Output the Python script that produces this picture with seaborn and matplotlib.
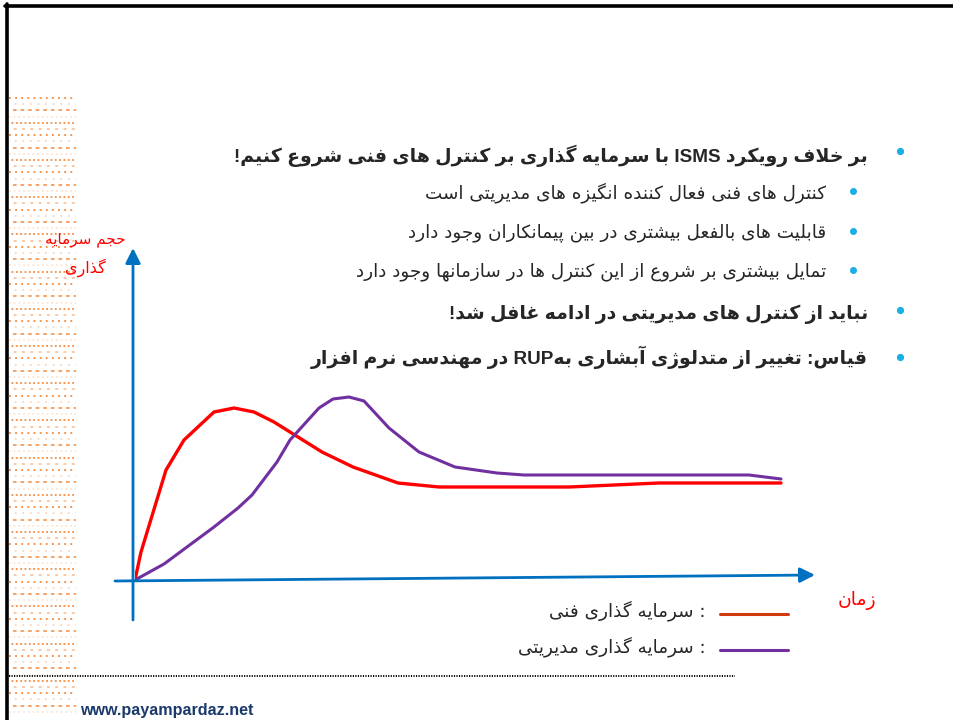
import re
import matplotlib
matplotlib.use("Agg")
import matplotlib.pyplot as plt
import seaborn as sns
from matplotlib.lines import Line2D

W, H = 954, 720

# --- data (time vs investment volume, arbitrary units) ---
tech_time = [0, 6, 31, 49, 79, 99, 119, 139, 187, 218, 263, 304, 434, 524, 646]
tech_value = [0, 28, 110, 140, 168, 172, 168, 158, 128, 113, 97, 93, 93, 97, 97]
mgmt_time = [0, 29, 79, 103, 117, 142, 155, 184, 198, 214, 229, 254, 284, 320, 362, 389, 614, 646]
mgmt_value = [0, 16, 53, 72, 85, 118, 140, 172, 181, 183, 179, 152, 128, 113, 107, 105, 105, 101]

series_labels = [": سرمایه گذاری فنی", ": سرمایه گذاری مدیریتی"]
y_label_lines = ["حجم سرمایه", "گذاری"]
x_label = "زمان"
bullets_main = [
    "بر خلاف رویکرد ISMS با سرمایه گذاری بر کنترل های فنی شروع کنیم!",
    "نباید از کنترل های مدیریتی در ادامه غافل شد!",
    "قیاس: تغییر از متدلوژی آبشاری بهRUP در مهندسی نرم افزار",
]
bullets_sub = [
    "کنترل های فنی فعال کننده انگیزه های مدیریتی است",
    "قابلیت های بالفعل بیشتری در بین پیمانکاران وجود دارد",
    "تمایل بیشتری بر شروع از این کنترل ها در سازمانها وجود دارد",
]
footer = "www.payampardaz.net"

# --- minimal arabic/persian shaping + rtl ordering (matplotlib has no CTL) ---
FORMS = {
    "ا": (0xFE8D, 0xFE8E), "آ": (0xFE81, 0xFE82), "د": (0xFEA9, 0xFEAA),
    "ذ": (0xFEAB, 0xFEAC), "ر": (0xFEAD, 0xFEAE), "ز": (0xFEAF, 0xFEB0),
    "ژ": (0xFB8A, 0xFB8B), "و": (0xFEED, 0xFEEE), "ة": (0xFE93, 0xFE94),
    "ب": (0xFE8F, 0xFE90, 0xFE91, 0xFE92), "پ": (0xFB56, 0xFB57, 0xFB58, 0xFB59),
    "ت": (0xFE95, 0xFE96, 0xFE97, 0xFE98), "ث": (0xFE99, 0xFE9A, 0xFE9B, 0xFE9C),
    "ج": (0xFE9D, 0xFE9E, 0xFE9F, 0xFEA0), "چ": (0xFB7A, 0xFB7B, 0xFB7C, 0xFB7D),
    "ح": (0xFEA1, 0xFEA2, 0xFEA3, 0xFEA4), "خ": (0xFEA5, 0xFEA6, 0xFEA7, 0xFEA8),
    "س": (0xFEB1, 0xFEB2, 0xFEB3, 0xFEB4), "ش": (0xFEB5, 0xFEB6, 0xFEB7, 0xFEB8),
    "ص": (0xFEB9, 0xFEBA, 0xFEBB, 0xFEBC), "ض": (0xFEBD, 0xFEBE, 0xFEBF, 0xFEC0),
    "ط": (0xFEC1, 0xFEC2, 0xFEC3, 0xFEC4), "ظ": (0xFEC5, 0xFEC6, 0xFEC7, 0xFEC8),
    "ع": (0xFEC9, 0xFECA, 0xFECB, 0xFECC), "غ": (0xFECD, 0xFECE, 0xFECF, 0xFED0),
    "ف": (0xFED1, 0xFED2, 0xFED3, 0xFED4), "ق": (0xFED5, 0xFED6, 0xFED7, 0xFED8),
    "ک": (0xFB8E, 0xFB8F, 0xFB90, 0xFB91), "گ": (0xFB92, 0xFB93, 0xFB94, 0xFB95),
    "ل": (0xFEDD, 0xFEDE, 0xFEDF, 0xFEE0), "م": (0xFEE1, 0xFEE2, 0xFEE3, 0xFEE4),
    "ن": (0xFEE5, 0xFEE6, 0xFEE7, 0xFEE8), "ه": (0xFEE9, 0xFEEA, 0xFEEB, 0xFEEC),
    "ی": (0xFBFC, 0xFBFD, 0xFBFE, 0xFBFF), "ي": (0xFEF1, 0xFEF2, 0xFEF3, 0xFEF4),
    "ئ": (0xFE89, 0xFE8A, 0xFE8B, 0xFE8C),
}
LAM_ALEF = {"ا": (0xFEFB, 0xFEFC), "آ": (0xFEF5, 0xFEF6)}


def shape(s):
    out = []
    i = 0
    while i < len(s):
        c = s[i]
        prev = s[i - 1] if i > 0 else ""
        prev_joins = prev in FORMS and len(FORMS[prev]) == 4
        if c == "ل" and i + 1 < len(s) and s[i + 1] in LAM_ALEF:
            iso, fin = LAM_ALEF[s[i + 1]]
            out.append(chr(fin if prev_joins else iso))
            i += 2
            continue
        if c not in FORMS:
            out.append(c)
            i += 1
            continue
        f = FORMS[c]
        nxt = s[i + 1] if i + 1 < len(s) else ""
        next_joins = len(f) == 4 and nxt in FORMS
        if prev_joins and next_joins:
            code = f[3]
        elif prev_joins:
            code = f[1]
        elif next_joins:
            code = f[2]
        else:
            code = f[0]
        out.append(chr(code))
        i += 1
    return "".join(out)


def rtl(s):
    runs = re.findall(r"[A-Za-z0-9]+|[^A-Za-z0-9]+", shape(s))
    return "".join(r if re.match(r"[A-Za-z0-9]", r) else r[::-1] for r in reversed(runs))


def fx(x):
    return x / W


def fy(y):
    return 1 - y / H


sns.set_style("white")
plt.rcParams["font.family"] = ["DejaVu Sans"]

fig = plt.figure(figsize=(W / 100, H / 100), dpi=100)

# slide frame
fig.add_artist(Line2D([fx(5), fx(954)], [fy(5.5), fy(5.5)], color="black", lw=2.6))
fig.add_artist(Line2D([fx(7.5), fx(7.5)], [fy(4), fy(720)], color="black", lw=2.6))

# orange dotted decoration on the left margin
row_styles = [(0.9, (1.0, 2.4)), (0.3, (1.0, 3.2)), (0.75, (2.0, 2.2)), (0.2, (1.0, 1.6)),
              (0.85, (1.0, 1.4)), (0.45, (1.6, 3.0))]
y = 98
k = 0
while y < 718:
    a, dash = row_styles[k % len(row_styles)]
    fig.add_artist(Line2D([fx(9), fx(76)], [fy(y), fy(y)], color="#F47A20", alpha=a,
                          lw=1.3, linestyle=(k % 3, dash)))
    y += 6.2
    k += 1

# dotted separator
fig.add_artist(Line2D([fx(9), fx(735)], [fy(676), fy(676)], color="black", lw=1.4,
                      linestyle=(0, (0.6, 0.7))))

# bullets
bullet_col = "#1AAFE6"
main_y = [156, 314, 357]
sub_y = [193, 233, 272]
main_dot_y = [151, 310, 357]
sub_dot_y = [191, 231, 270]
for t, yy, dy in zip(bullets_main, main_y, main_dot_y):
    fig.text(fx(868), fy(yy), rtl(t), ha="right", va="center", fontsize=13.6,
             fontweight="bold", family=["Liberation Sans", "DejaVu Sans"])
    fig.add_artist(Line2D([fx(900)], [fy(dy)], marker="o", ms=4.2, color=bullet_col, lw=0))
for t, yy, dy in zip(bullets_sub, sub_y, sub_dot_y):
    fig.text(fx(826), fy(yy), rtl(t), ha="right", va="center", fontsize=13.2)
    fig.add_artist(Line2D([fx(853)], [fy(dy)], marker="o", ms=4.0, color=bullet_col, lw=0))

# chart
ax = fig.add_axes([fx(135), fy(580), (815 - 135) / W, (580 - 248) / H])
ax.set_xlim(0, 680)
ax.set_ylim(0, 332)
ax.axis("off")

sns.lineplot(x=tech_time, y=tech_value, ax=ax, color="#FF0000", lw=2.4, sort=False,
             estimator=None)
sns.lineplot(x=mgmt_time, y=mgmt_value, ax=ax, color="#7030A0", lw=2.2, sort=False,
             estimator=None)

axis_col = "#0070C0"
ax.annotate("", xy=(-2, 332), xytext=(-2, -40), annotation_clip=False,
            arrowprops=dict(arrowstyle="-|>,head_length=0.9,head_width=0.45",
                            color=axis_col, lw=2, shrinkA=0, shrinkB=0))
ax.annotate("", xy=(680, 5), xytext=(-20, -1), annotation_clip=False,
            arrowprops=dict(arrowstyle="-|>,head_length=0.9,head_width=0.45",
                            color=axis_col, lw=2, shrinkA=0, shrinkB=0))

# axis captions
fig.text(fx(126), fy(240), rtl(y_label_lines[0]), ha="right", va="center",
         fontsize=11, color="#FF0000")
fig.text(fx(106), fy(268), rtl(y_label_lines[1]), ha="right", va="center",
         fontsize=11.5, color="#FF0000")
fig.text(fx(876), fy(600), rtl(x_label), ha="right", va="center", fontsize=13.5,
         color="#FF0000")

# legend
legend_cols = ["#D23A0E", "#7030A0"]
legend_y = [611, 647]
for lab, col, yy in zip(series_labels, legend_cols, legend_y):
    fig.add_artist(Line2D([fx(720), fx(788)], [fy(yy + 3), fy(yy + 3)], color=col, lw=2.2))
    fig.text(fx(706), fy(yy), rtl(lab), ha="right", va="center", fontsize=13.2)

fig.text(fx(80), fy(711), footer, ha="left", va="center", fontsize=11.6,
         fontweight="bold", color="#1B3A6B", family=["Liberation Sans", "DejaVu Sans"])

fig.savefig("out.png", dpi=100)
